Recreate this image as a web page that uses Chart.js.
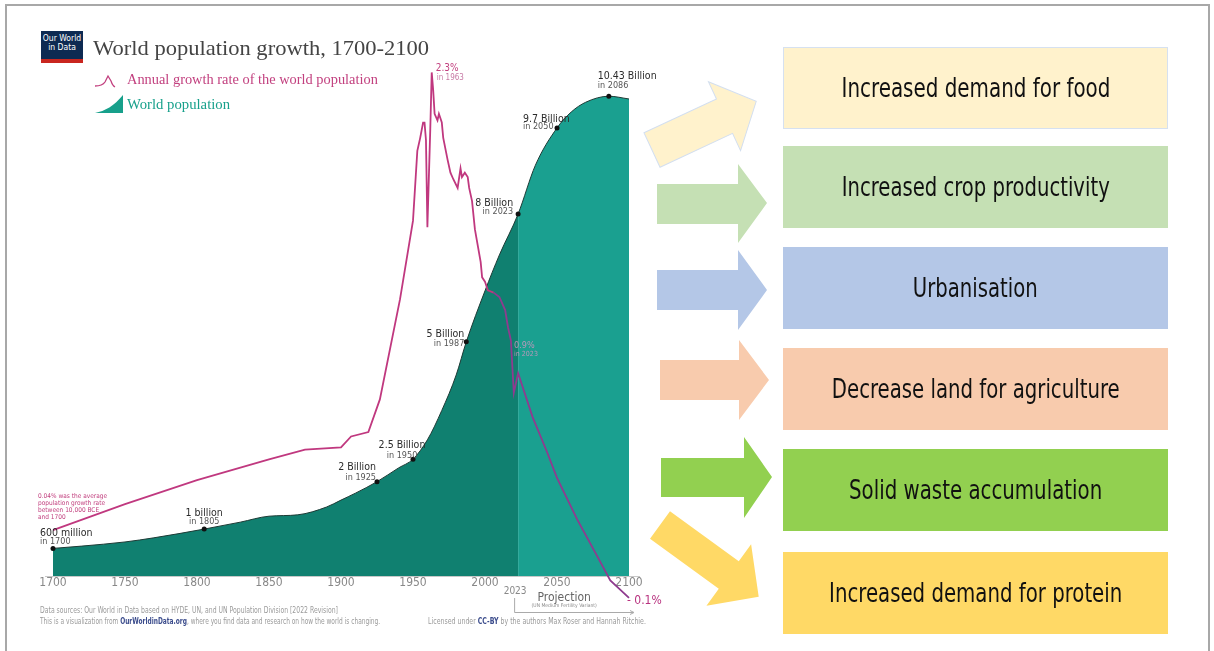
<!DOCTYPE html>
<html>
<head>
<meta charset="utf-8">
<script src="https://cdn.jsdelivr.net/npm/chart.js@4.4.1/dist/chart.umd.min.js"></script>
<style>
  body { margin: 0; width: 1214px; height: 651px; overflow: hidden; background: #fff; position: relative;
         font-family: "Liberation Sans Narrow", "DejaVu Sans Condensed", "Liberation Sans", sans-serif; }
  #frame { position: absolute; left: 5px; top: 4px; width: 1201px; height: 660px; border: 2px solid #a8a8a8; border-bottom: none; }
  #graf { position: absolute; left: 0; top: 0; }
  .t { position: absolute; white-space: nowrap; line-height: 1; transform-origin: 0 50%; }
  .serif { font-family: "Liberation Serif", "DejaVu Serif", serif; }
  #logo { position: absolute; left: 41px; top: 31px; width: 42px; background: #0d2a52;
          border-bottom: 4px solid #c9261f; color: #fff; font-size: 8.5px; line-height: 1.1; text-align: center; padding-top: 3px; height: 25px; }
  .box { position: absolute; left: 783px; width: 385px; height: 82px; display: flex; align-items: center; justify-content: center;
         font-size: 26px; color: #111; }
  .box span { white-space: nowrap; display: inline-block; transform-origin: 50% 50%; }
  .foot { font-size: 8px; color: #9a9a9a; }
  .foot b { color: #3b4c8c; font-weight: bold; }
  svg { position: absolute; left: 0; top: 0; }
</style>
</head>
<body>
<div id="frame"></div>
<canvas id="graf" width="680" height="651"></canvas>

<div id="logo">Our World<br>in Data</div>
<div class="t serif" style="left:93px;top:37px;font-size:22px;color:#444" data-w="336">World population growth, 1700-2100</div>
<svg width="130" height="120" style="left:0;top:0">
  <path d="M95 86 C100 86 103 85 105 82 L108 76 L111 81 C112 84 113 86 115 87" fill="none" stroke="#c2407f" stroke-width="1.3"/>
  <path d="M95 113 C105 111 114 106 123 95 L123 113 Z" fill="#17a08b"/>
</svg>
<div class="t serif" style="left:127px;top:72px;font-size:15px;color:#c2407f" data-w="251">Annual growth rate of the world population</div>
<div class="t serif" style="left:127px;top:97px;font-size:15px;color:#17a08b" data-w="103">World population</div>

<div class="t foot" style="left:40px;top:607px" data-w="298">Data sources: Our World in Data based on HYDE, UN, and UN Population Division [2022 Revision]</div>
<div class="t foot" style="left:40px;top:618px" data-w="340">This is a visualization from <b>OurWorldinData.org</b>, where you find data and research on how the world is changing.</div>
<div class="t foot" style="left:428px;top:618px" data-w="218">Licensed under <b>CC-BY</b> by the authors Max Roser and Hannah Ritchie.</div>

<svg width="1214" height="651">
  <g transform="translate(652,150) rotate(-25)">
    <polygon points="0,-19 80,-19 80,-38 115,0 80,38 80,19 0,19" fill="#fff2cc" stroke="#d3dff0" stroke-width="1"/>
  </g>
  <polygon points="657,184 738,184 738,164 767,203 738,243 738,224 657,224" fill="#c5e0b4"/>
  <polygon points="657,270 738,270 738,250 767,290 738,330 738,310 657,310" fill="#b4c7e7"/>
  <polygon points="660,360 739,360 739,340 769,380 739,420 739,400 660,400" fill="#f8cbad"/>
  <polygon points="661,458 744,458 744,437 772,477 744,518 744,497 661,497" fill="#92d050"/>
  <g transform="translate(660,525) rotate(36)">
    <polygon points="0,-17 85,-17 85,-38 122,0 85,38 85,17 0,17" fill="#ffd966"/>
  </g>
</svg>

<div class="box" style="top:47px;background:#fff2cc;border:1px solid #d6e1f0;box-sizing:border-box"><span data-w="269">Increased demand for food</span></div>
<div class="box" style="top:146px;background:#c5e0b4"><span data-w="268">Increased crop productivity</span></div>
<div class="box" style="top:247px;background:#b4c7e7"><span data-w="125">Urbanisation</span></div>
<div class="box" style="top:348px;background:#f8cbad"><span data-w="288">Decrease land for agriculture</span></div>
<div class="box" style="top:449px;background:#92d050"><span data-w="253">Solid waste accumulation</span></div>
<div class="box" style="top:552px;background:#ffd966"><span data-w="293">Increased demand for protein</span></div>

<script>
// Akse-etiketter
const tickYears = [1700, 1750, 1800, 1850, 1900, 1950, 2000, 2050, 2100];

// Verdens befolkning (milliarder)
const popYears = [1700, 1720, 1750, 1770, 1805, 1830, 1850, 1870, 1890, 1900, 1910, 1925, 1940, 1950, 1960,
  1970, 1980, 1987, 2000, 2010, 2023, 2035, 2050, 2060, 2070, 2086, 2100];
const popValues = [0.60, 0.65, 0.74, 0.83, 1.02, 1.17, 1.30, 1.33, 1.50, 1.65, 1.80, 2.05, 2.35, 2.54, 2.96,
  3.60, 4.37, 5.09, 6.20, 6.98, 7.87, 8.93, 9.74, 10.09, 10.30, 10.43, 10.37];

// Årlig vækstrate (%)
const rateYears = [1700, 1750, 1800, 1850, 1875, 1900, 1907, 1919, 1927, 1941, 1950, 1953, 1955, 1957, 1958,
  1959, 1960, 1962, 1963, 1964, 1965, 1967, 1968, 1970, 1971, 1974, 1976, 1978, 1981, 1983,
  1984, 1986, 1988, 1989, 1991, 1993, 1997, 1998, 2000, 2002, 2006, 2010, 2014, 2016, 2018,
  2019, 2020, 2023, 2026, 2033, 2043, 2050, 2064, 2078, 2087, 2100];
const rateValues = [0.21, 0.33, 0.44, 0.535, 0.58, 0.59, 0.64, 0.66, 0.81, 1.27, 1.63, 1.95, 2.01, 2.08, 2.08,
  2.0, 1.6, 2.05, 2.31, 2.23, 2.12, 2.09, 2.12, 2.08, 2.01, 1.91, 1.85, 1.82, 1.78, 1.87,
  1.83, 1.85, 1.83, 1.78, 1.72, 1.59, 1.44, 1.37, 1.35, 1.31, 1.30, 1.28, 1.22, 1.14, 1.08,
  0.96, 0.84, 0.93, 0.87, 0.73, 0.57, 0.45, 0.26, 0.09, -0.02, -0.1];

// Milepæle
const milestoneYears = [1700, 1805, 1925, 1950, 1987, 2023, 2050, 2086];
const milestoneValues = [0.60, 1.02, 2.05, 2.54, 5.09, 7.87, 9.74, 10.43];
const milestoneLabels = ["600 million", "1 billion", "2 Billion", "2.5 Billion", "5 Billion", "8 Billion", "9.7 Billion", "10.43 Billion"];
const milestoneSubs = ["in 1700", "in 1805", "in 1925", "in 1950", "in 1987", "in 2023", "in 2050", "in 2086"];

const projectionStart = 2023;

// placering af milepæl-tekster: [align, dx, dy1, dy2]
const labelPlace = [
  ["left", -13, -15, -7], ["center", 0, -16, -7], ["right", -1, -14, -4], ["center", -11, -14, -4],
  ["right", -2, -8, 2], ["right", -5, -11, -2], ["left", -34, -9, -1], ["left", -11, -20, -11]
];

const FONT = '"Liberation Sans Narrow", "DejaVu Sans Condensed", "Liberation Sans", sans-serif';
const DARK_TEAL = "rgb(16,128,112)";
const LIGHT_TEAL = "rgb(26,160,144)";

const annotate = {
  id: "annotate",
  beforeDatasetsDraw(chart) {
    const ctx = chart.ctx;
    const y0 = chart.scales.yPop.getPixelForValue(0);
    ctx.save();
    ctx.strokeStyle = "#c8c8c8";
    ctx.lineWidth = 1;
    ctx.beginPath();
    ctx.moveTo(45, Math.round(y0) + 0.5);
    ctx.lineTo(640, Math.round(y0) + 0.5);
    ctx.stroke();
    ctx.restore();
  },
  afterDatasetsDraw(chart) {
    const ctx = chart.ctx;
    const xs = chart.scales.x, yp = chart.scales.yPop, yr = chart.scales.yRate;
    ctx.save();
    ctx.textBaseline = "middle";

    // milepæle
    milestoneYears.forEach((yr_, i) => {
      const px = xs.getPixelForValue(yr_), py = yp.getPixelForValue(milestoneValues[i]);
      const [align, dx, dy1, dy2] = labelPlace[i];
      ctx.textAlign = align;
      ctx.fillStyle = "#2b2b2b";
      ctx.font = "10.5px " + FONT;
      ctx.fillText(milestoneLabels[i], px + dx, py + dy1);
      ctx.fillStyle = "#555";
      ctx.font = "9px " + FONT;
      ctx.fillText(milestoneSubs[i], px + dx, py + dy2);
    });

    // vækstrate-tekster
    const iPeak = rateValues.indexOf(Math.max(...rateValues));
    const peakX = xs.getPixelForValue(rateYears[iPeak]), peakY = yr.getPixelForValue(rateValues[iPeak]);
    ctx.textAlign = "left";
    ctx.fillStyle = "#c2407f";
    ctx.font = "10px " + FONT;
    ctx.fillText(rateValues[iPeak].toFixed(1) + "%", peakX + 4, peakY - 4);
    ctx.fillStyle = "#c77aa5";
    ctx.font = "8px " + FONT;
    ctx.fillText("in " + rateYears[iPeak], peakX + 5, peakY + 6);

    const iLast = rateValues.length - 1;
    const lastX = xs.getPixelForValue(rateYears[iLast]), lastY = yr.getPixelForValue(rateValues[iLast]);
    ctx.fillStyle = "#b8327f";
    ctx.font = "12px " + FONT;
    ctx.fillText("- " + Math.abs(rateValues[iLast]) + "%", lastX - 2, lastY + 3);

    const iNow = rateYears.indexOf(2023);
    const nowX = xs.getPixelForValue(2023), nowY = yr.getPixelForValue(rateValues[iNow]);
    ctx.fillStyle = "rgba(236,150,200,0.75)";
    ctx.font = "9px " + FONT;
    ctx.fillText(rateValues[iNow].toFixed(1) + "%", nowX - 4, nowY - 28);
    ctx.font = "7px " + FONT;
    ctx.fillText("in 2023", nowX - 4, nowY - 19);

    const firstX = xs.getPixelForValue(rateYears[0]), firstY = yr.getPixelForValue(rateValues[0]);
    ctx.fillStyle = "#c2407f";
    ctx.font = "6.5px " + FONT;
    ["0.04% was the average", "population growth rate", "between 10,000 BCE", "and 1700"].forEach((s, k) => {
      ctx.fillText(s, firstX - 15, firstY - 34 + k * 7);
    });

    // 2023 og projektion
    const x23 = xs.getPixelForValue(projectionStart);
    const x100 = xs.getPixelForValue(2100);
    ctx.textAlign = "center";
    ctx.fillStyle = "#888";
    ctx.font = "10px " + FONT;
    ctx.fillText(String(projectionStart), x23 - 3, 591);
    ctx.fillStyle = "#666";
    ctx.font = "12px " + FONT;
    ctx.fillText("Projection", xs.getPixelForValue(2055), 598);
    ctx.font = "5px " + FONT;
    ctx.fillStyle = "#888";
    ctx.fillText("(UN Medium Fertility Variant)", xs.getPixelForValue(2055), 606);
    ctx.strokeStyle = "#aaa";
    ctx.lineWidth = 1;
    ctx.beginPath();
    ctx.moveTo(x23 - 3.5, 598);
    ctx.lineTo(x23 - 3.5, 612.5);
    ctx.lineTo(x100 + 4, 612.5);
    ctx.stroke();
    ctx.beginPath();
    ctx.moveTo(x100 + 1, 610.5);
    ctx.lineTo(x100 + 5, 612.5);
    ctx.lineTo(x100 + 1, 614.5);
    ctx.stroke();
    ctx.restore();
  }
};

var grafCtx = document.getElementById("graf").getContext("2d");
var befolkningGraf = new Chart(grafCtx, {
  type: "line",
  data: {
    datasets: [
      {
        label: "Milestones",
        type: "scatter",
        data: milestoneYears.map((x, i) => ({ x: x, y: milestoneValues[i] })),
        yAxisID: "yPop",
        pointRadius: 2.5,
        pointBackgroundColor: "#111",
        pointBorderWidth: 0,
        clip: false,
        order: 0,
      },
      {
        label: "Annual growth rate of the world population",
        data: rateYears.map((x, i) => ({ x: x, y: rateValues[i] })),
        yAxisID: "yRate",
        borderColor: "#c0387f",
        borderWidth: 1.8,
        pointRadius: 0,
        tension: 0,
        fill: false,
        clip: false,
        segment: {
          borderColor: (c) => (c.p0.parsed.x >= 2004 ? "#8f3b8f" : undefined),
        },
        order: 1,
      },
      {
        label: "World population",
        data: popYears.map((x, i) => ({ x: x, y: popValues[i] })),
        yAxisID: "yPop",
        borderColor: "#1d3a35",
        borderWidth: 1,
        backgroundColor: DARK_TEAL,
        fill: "origin",
        pointRadius: 0,
        cubicInterpolationMode: "monotone",
        segment: {
          backgroundColor: (c) => (c.p0.parsed.x >= projectionStart ? LIGHT_TEAL : DARK_TEAL),
        },
        order: 2,
      },
    ],
  },
  options: {
    responsive: false,
    animation: false,
    events: [],
    layout: { padding: { left: 53, right: 51, top: 60, bottom: 55 } },
    plugins: { legend: { display: false }, tooltip: { enabled: false } },
    scales: {
      x: {
        type: "linear",
        min: 1700,
        max: 2100,
        grid: { display: false, drawTicks: false },
        border: { display: false },
        afterBuildTicks: (s) => { s.ticks = tickYears.map((v) => ({ value: v })); },
        afterFit: (s) => { s.height = 20; },
        ticks: {
          autoSkip: false,
          maxRotation: 0,
          padding: 0,
          color: "#888",
          font: { family: FONT, size: 12 },
          callback: (v) => String(v),
        },
      },
      yPop: { type: "linear", display: false, min: 0, max: 516 / 46 },
      yRate: { type: "linear", display: false, min: 0, max: 516 / 218 },
    },
  },
  plugins: [annotate],
});

// Tilpas tekstbredder
document.querySelectorAll("[data-w]").forEach((el) => {
  const w = el.getBoundingClientRect().width;
  const target = parseFloat(el.getAttribute("data-w"));
  if (w > 0) el.style.transform = "scaleX(" + (target / w).toFixed(3) + ")";
});
</script>
</body>
</html>
